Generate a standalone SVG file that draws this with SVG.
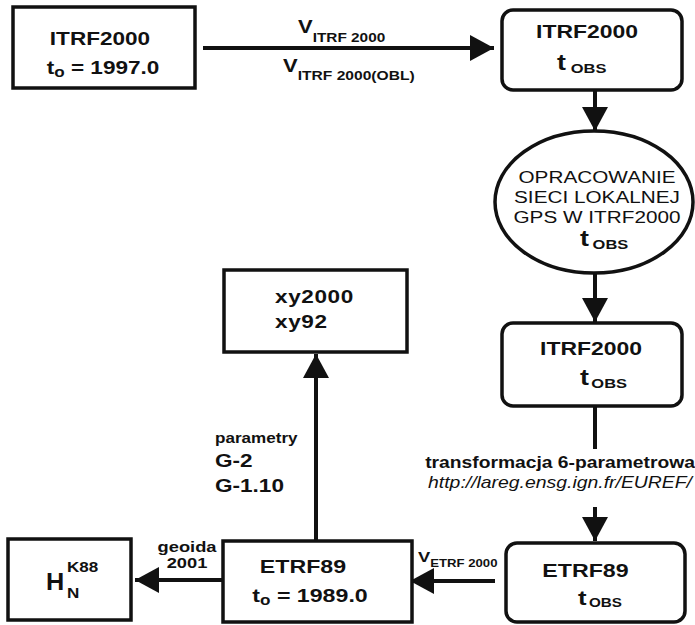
<svg xmlns="http://www.w3.org/2000/svg" width="695" height="625" viewBox="0 0 695 625">
<style>
.box{fill:#fff;stroke:#111;stroke-width:3.5}
.t{font-family:"Liberation Sans",Arial,sans-serif;fill:#111}
.b{font-weight:bold}
.m{text-anchor:middle}
.con{stroke:#111;stroke-width:4;fill:none}
</style>
<defs>
<marker id="ah" viewBox="0 0 24 26" refX="24" refY="13" markerWidth="24" markerHeight="26" markerUnits="userSpaceOnUse" orient="auto">
<path d="M0,0 L24,13 L0,26 z" fill="#111"/>
</marker>
</defs>
<rect width="695" height="625" fill="#fff"/>

<g id="connectors">
<line class="con" x1="203" y1="48" x2="494" y2="48" marker-end="url(#ah)"/>
<line class="con" x1="595" y1="90" x2="595" y2="131" marker-end="url(#ah)"/>
<line class="con" x1="595" y1="273" x2="595" y2="322" marker-end="url(#ah)"/>
<line class="con" x1="595" y1="406" x2="595" y2="449"/>
<line class="con" x1="595" y1="507" x2="595" y2="541" marker-end="url(#ah)"/>
<line class="con" x1="495" y1="581" x2="410" y2="581" marker-end="url(#ah)"/>
<line class="con" x1="223" y1="580" x2="135" y2="580" marker-end="url(#ah)"/>
<line class="con" x1="316" y1="541" x2="316" y2="354" marker-end="url(#ah)"/>
<text class="t b" transform="matrix(1.22 0 0 1 298 33)" font-size="18">V<tspan font-size="12.6" dy="9">ITRF 2000</tspan></text>
<text class="t b" transform="matrix(1.22 0 0 1 283 72)" font-size="18">V<tspan font-size="12.8" dy="8">ITRF 2000(OBL)</tspan></text>
<text class="t b m" transform="matrix(1.22 0 0 1 560 468)" font-size="15.8">transformacja 6-parametrowa</text>
<text class="t m" transform="matrix(1.22 0 0 1 560 488)" font-size="15.9" font-style="italic">http://lareg.ensg.ign.fr/EUREF/</text>
<text class="t b" transform="matrix(1.22 0 0 1 418 562)" font-size="15">V<tspan font-size="10.8" dy="5">ETRF 2000</tspan></text>
<text class="t b m" transform="matrix(1.22 0 0 1 187 552)" font-size="15">geoida</text>
<text class="t b m" transform="matrix(1.22 0 0 1 187 568)" font-size="15">2001</text>
<text class="t b" transform="matrix(1.22 0 0 1 215 443)" font-size="14">parametry</text>
<text class="t b" transform="matrix(1.22 0 0 1 215 467)" font-size="18.5">G-2</text>
<text class="t b" transform="matrix(1.22 0 0 1 215 492)" font-size="18.5">G-1.10</text>
</g>

<g id="n1">
<rect class="box" x="13" y="7" width="182" height="81"/>
<text class="t b m" transform="matrix(1.22 0 0 1 100 45)" font-size="18.5">ITRF2000</text>
<text class="t b m" transform="matrix(1.22 0 0 1 103 74)" font-size="18.5">t<tspan font-size="14" dy="3">o</tspan><tspan dy="-3"> = 1997.0</tspan></text>
</g>

<g id="n2">
<rect class="box" x="502" y="10" width="180" height="80" rx="11"/>
<text class="t b m" transform="matrix(1.22 0 0 1 587 38)" font-size="18.8">ITRF2000</text>
<text class="t b" transform="matrix(1.22 0 0 1 557 70)" font-size="22">t<tspan font-size="13.5" dx="4" dy="3">OBS</tspan></text>
</g>

<g id="n3">
<ellipse class="box" cx="594" cy="202" rx="99" ry="71"/>
<text class="t m" transform="matrix(1.22 0 0 1 597 183)" font-size="17">OPRACOWANIE</text>
<text class="t m" transform="matrix(1.22 0 0 1 597 203)" font-size="17">SIECI LOKALNEJ</text>
<text class="t m" transform="matrix(1.22 0 0 1 597 223)" font-size="17">GPS W ITRF2000</text>
<text class="t b" transform="matrix(1.22 0 0 1 580 246)" font-size="22">t<tspan font-size="13.5" dx="3" dy="3">OBS</tspan></text>
</g>

<g id="n4">
<rect class="box" x="502" y="323" width="180" height="83" rx="11"/>
<text class="t b m" transform="matrix(1.22 0 0 1 591 355)" font-size="18.8">ITRF2000</text>
<text class="t b" transform="matrix(1.22 0 0 1 580 385)" font-size="22">t<tspan font-size="13.5" dx="2" dy="3">OBS</tspan></text>
</g>

<g id="n5">
<rect class="box" x="506" y="543" width="179" height="79" rx="11"/>
<text class="t b m" transform="matrix(1.22 0 0 1 585.5 577)" font-size="19">ETRF89</text>
<text class="t b" transform="matrix(1.22 0 0 1 578 605)" font-size="21">t<tspan font-size="12.5" dx="2" dy="2">OBS</tspan></text>
</g>

<g id="n6">
<rect class="box" x="223" y="541" width="189" height="81"/>
<text class="t b m" transform="matrix(1.22 0 0 1 303 573)" font-size="19">ETRF89</text>
<text class="t b m" transform="matrix(1.22 0 0 1 310 602)" font-size="19">t<tspan font-size="14" dy="3">o</tspan><tspan dy="-3"> = 1989.0</tspan></text>
</g>

<g id="n7">
<rect class="box" x="8" y="539" width="123" height="81"/>
<text class="t b" transform="matrix(1.1 0 0 1 46 590)" font-size="23">H</text>
<text class="t b" transform="matrix(1.1 0 0 1 67 572)" font-size="15.5">K88</text>
<text class="t b" transform="matrix(1.1 0 0 1 67 598)" font-size="15.5">N</text>
</g>

<g id="n8">
<rect class="box" x="224" y="270" width="183" height="82"/>
<text class="t b" transform="matrix(1.22 0 0 1 275 303)" font-size="18.5" letter-spacing="0.5">xy2000</text>
<text class="t b" transform="matrix(1.22 0 0 1 275 328)" font-size="18.5" letter-spacing="0.5">xy92</text>
</g>
</svg>
